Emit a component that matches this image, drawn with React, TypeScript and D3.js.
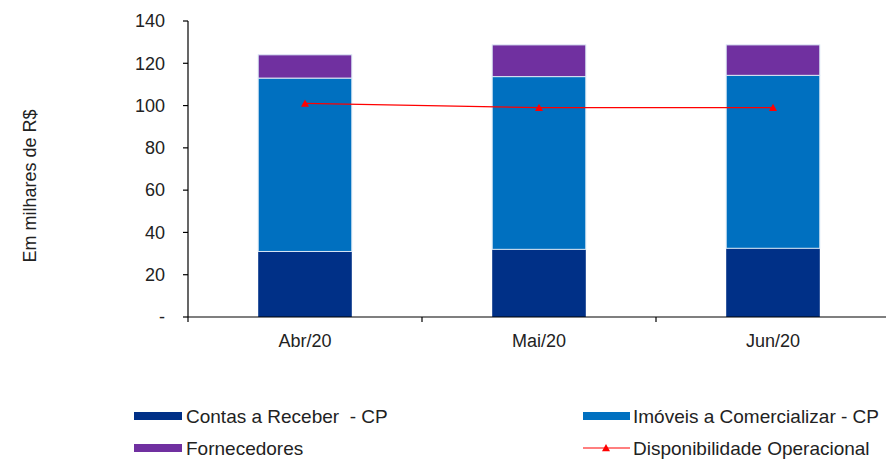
import React from "react";
import * as d3 from "d3";

const categories = ["Abr/20", "Mai/20", "Jun/20"];
const contasReceber = [31, 32, 32.5];
const imoveis = [82, 81.7, 81.8];
const fornecedores = [11, 15, 14.4];
const disponibilidade = [101, 99, 99];
const yTicks = [0, 20, 40, 60, 80, 100, 120, 140];

const seriesNames = ["Contas a Receber  - CP", "Imóveis a Comercializar - CP", "Fornecedores"];
const lineName = "Disponibilidade Operacional";
const colors = ["#003087", "#0070C0", "#7030A0"];

export default function App() {
  const W = 886, H = 460;
  const left = 188, right = 890, top = 21, bottom = 317;
  const x = d3.scaleBand().domain(categories).range([left, right]).paddingInner(0).paddingOuter(0);
  const y = d3.scaleLinear().domain([0, 140]).range([bottom, top]);
  const barW = x.bandwidth() * 0.4;

  const rows = categories.map((c, i) => ({
    cat: c,
    v0: contasReceber[i],
    v1: imoveis[i],
    v2: fornecedores[i],
  }));
  const stack = d3.stack<any>().keys(["v0", "v1", "v2"])(rows);

  const line = d3
    .line<number>()
    .x((_, i) => (x(categories[i]) as number) + x.bandwidth() / 2)
    .y((d) => y(d));

  const font = "Liberation Sans, Arial, sans-serif";
  const tri = (cx: number, cy: number, s = 5) =>
    `M${cx},${cy - s} L${cx + s},${cy + s * 0.8} L${cx - s},${cy + s * 0.8} Z`;

  const row1 = 416, row2 = 448;

  return (
    <svg width={W} height={H} style={{ position: "absolute", left: 0, top: 0, background: "#fff" }} fontFamily={font} fill="#222">
      {/* bars */}
      {stack.map((s, si) =>
        s.map((d, i) => (
          <rect
            key={`${si}-${i}`}
            x={(x(categories[i]) as number) + (x.bandwidth() - barW) / 2}
            y={y(d[1])}
            width={barW}
            height={y(d[0]) - y(d[1])}
            fill={colors[si]}
            stroke="#dbe8f5"
            strokeWidth={si === 0 ? 0 : 1}
          />
        ))
      )}
      {/* y axis */}
      <line x1={left} x2={left} y1={top} y2={bottom} stroke="#000" strokeWidth={1.2} />
      {yTicks.map((t) => (
        <g key={t}>
          <line x1={left - 5} x2={left} y1={y(t)} y2={y(t)} stroke="#000" strokeWidth={1.2} />
          <text x={165} y={y(t)} dy="0.35em" textAnchor="end" fontSize={18}>
            {t === 0 ? "-" : t}
          </text>
        </g>
      ))}
      {/* x axis */}
      <line x1={left} x2={right} y1={bottom} y2={bottom} stroke="#000" strokeWidth={1.2} />
      {categories.map((c, i) => (
        <g key={c}>
          <line
            x1={(x(c) as number) + x.bandwidth()}
            x2={(x(c) as number) + x.bandwidth()}
            y1={bottom}
            y2={bottom + 5}
            stroke="#000"
            strokeWidth={1.2}
          />
          <text x={(x(c) as number) + x.bandwidth() / 2} y={341} dy="0.35em" textAnchor="middle" fontSize={18}>
            {c}
          </text>
        </g>
      ))}
      <line x1={left} x2={left} y1={bottom} y2={bottom + 5} stroke="#000" strokeWidth={1.2} />
      {/* y label */}
      <text transform={`translate(30,186) rotate(-90)`} textAnchor="middle" fontSize={18} dy="0.35em">
        Em milhares de R$
      </text>
      {/* line */}
      <path d={line(disponibilidade) || ""} fill="none" stroke="#FF0000" strokeWidth={1.2} />
      {disponibilidade.map((v, i) => (
        <path key={i} d={tri((x(categories[i]) as number) + x.bandwidth() / 2, y(v), 4)} fill="#FF0000" />
      ))}
      {/* legend */}
      <rect x={134} y={row1 - 4} width={48} height={8} fill={colors[0]} />
      <text x={186} y={row1} dy="0.35em" fontSize={19} style={{ whiteSpace: "pre" }}>{seriesNames[0]}</text>
      <rect x={583} y={row1 - 4} width={47} height={8} fill={colors[1]} />
      <text x={633} y={row1} dy="0.35em" fontSize={19}>{seriesNames[1]}</text>
      <rect x={134} y={row2 - 4} width={48} height={8} fill={colors[2]} />
      <text x={186} y={row2} dy="0.35em" fontSize={19}>{seriesNames[2]}</text>
      <line x1={583} x2={630} y1={row2} y2={row2} stroke="#FF0000" strokeWidth={1.2} />
      <path d={tri(606, row2, 4)} fill="#FF0000" />
      <text x={633} y={row2} dy="0.35em" fontSize={19}>{lineName}</text>
    </svg>
  );
}
